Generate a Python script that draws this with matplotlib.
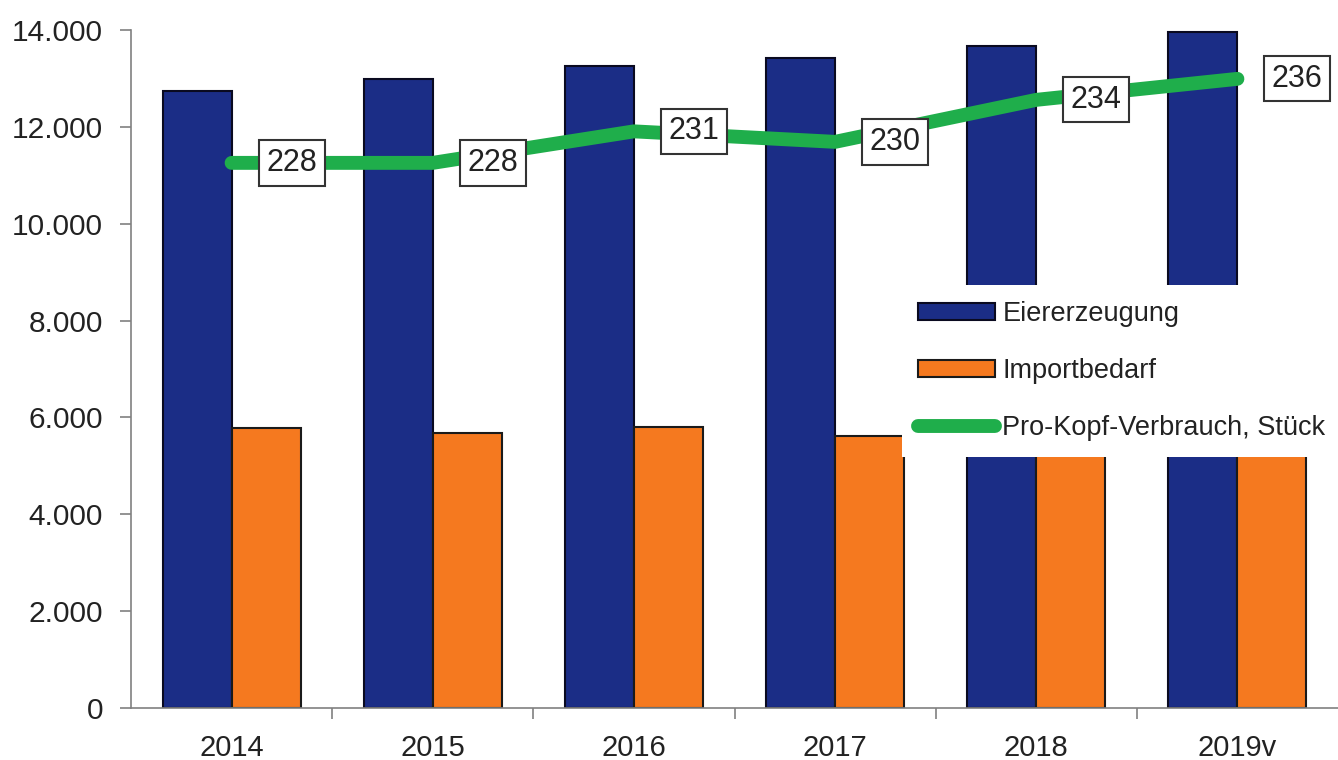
import numpy as np
import matplotlib.pyplot as plt
from matplotlib.ticker import FuncFormatter, FixedLocator

plt.rcParams['font.family'] = ['Liberation Sans', 'DejaVu Sans']

# Eggs: production and import need (mio. pieces), per-capita consumption (pieces)
JAHRE = ['2014', '2015', '2016', '2017', '2018', '2019v']
ERZEUGUNG = [12740, 12990, 13260, 13420, 13670, 13960]
IMPORT = [5780, 5680, 5800, 5620, 5900, 6050]
PRO_KOPF = [228, 228, 231, 230, 234, 236]

BLAU = '#1b2d86'
ORANGE = '#f5791f'
GRUEN = '#1fae4b'
ACHSE = '#808080'

fig = plt.figure(figsize=(13.38, 7.6), dpi=100)
ax1 = fig.add_axes([131 / 1338, 52 / 760, 1207 / 1338, 678 / 760])

x = np.arange(len(JAHRE))
w = 0.343
b1 = ax1.bar(x - w / 2, ERZEUGUNG, w, color=BLAU, edgecolor='#0a0a20',
             linewidth=1.5, label='Eiererzeugung')
b2 = ax1.bar(x + w / 2, IMPORT, w, color=ORANGE, edgecolor='#1a1a1a',
             linewidth=1.5, label='Importbedarf')

ax1.set_xlim(-0.5, len(JAHRE) - 0.5)
ax1.set_ylim(0, 14000)
ax1.set_yticks(np.arange(0, 14001, 2000))
ax1.yaxis.set_major_formatter(
    FuncFormatter(lambda v, _: f'{int(v):,}'.replace(',', '.')))
ax1.tick_params(axis='y', direction='out', length=8, width=1.2,
                color=ACHSE, labelsize=21.5, pad=12, labelcolor='#222222')

# year labels at group centres, tick marks on the group boundaries
ax1.set_xticks(x)
ax1.set_xticklabels(JAHRE)
ax1.tick_params(axis='x', which='major', length=0, labelsize=21, pad=19,
                labelcolor='#222222')
ax1.xaxis.set_minor_locator(FixedLocator(x[:-1] + 0.5))
ax1.tick_params(axis='x', which='minor', direction='out', length=8,
                width=1.2, color=ACHSE)

for s in ['top', 'right']:
    ax1.spines[s].set_visible(False)
for s in ['left', 'bottom']:
    ax1.spines[s].set_color(ACHSE)
    ax1.spines[s].set_linewidth(1.2)

# consumption line on its own hidden scale
ax2 = ax1.twinx()
ax2.set_ylim(176.1, 240.65)
ax2.axis('off')
l1, = ax2.plot(x, PRO_KOPF, color=GRUEN, linewidth=10,
               solid_capstyle='round', solid_joinstyle='round',
               label='Pro-Kopf-Verbrauch, Stück')
for xi, v in zip(x, PRO_KOPF):
    ax2.annotate(str(v), xy=(xi, v), xytext=(60, 0),
                 textcoords='offset pixels', ha='center', va='center',
                 fontsize=22, color='#222222',
                 bbox=dict(boxstyle='square,pad=0.25', fc='white',
                           ec='#333333', lw=1.5))

leg = ax2.legend(handles=[b1, b2, l1], loc='upper left',
                 bbox_to_anchor=((902 - 131) / 1207, (708 - 285) / 678),
                 fontsize=19.5, frameon=True, facecolor='white',
                 edgecolor='none', framealpha=1, fancybox=False,
                 borderpad=0.6, labelspacing=1.14, handlelength=2.85,
                 handleheight=0.58, handletextpad=0.26, borderaxespad=0)
for t in leg.get_texts():
    t.set_color('#222222')

fig.savefig('out.png', dpi=100)
